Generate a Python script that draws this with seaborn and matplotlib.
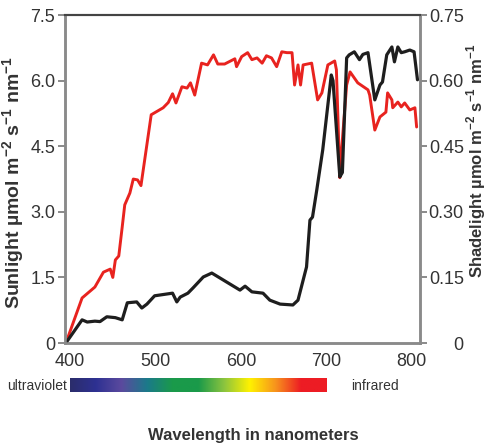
"""Sunlight vs shadelight spectra, dual y-axis, with a visible-spectrum strip."""

import matplotlib.pyplot as plt
import pandas as pd
import seaborn as sns
from matplotlib.colors import LinearSegmentedColormap
import numpy as np

# ---- data ----
sun_nm = [395, 414, 429, 439, 447, 450, 453, 457, 461, 464, 470, 474, 479, 483,
          495, 509, 515, 520, 524, 531, 537, 541, 546, 554, 561, 568, 573, 581,
          593, 595, 601, 608, 613, 619, 625, 630, 636, 642, 648, 654, 660, 663,
          667, 670, 673, 683, 690, 695, 702, 710, 712, 716, 718, 724, 728, 737,
          749, 751, 757, 763, 770, 772, 777, 778, 784, 788, 792, 798, 804, 806]
sun_val = [0.0, 1.03, 1.28, 1.62, 1.69, 1.50, 1.90, 1.99, 2.65, 3.16, 3.43, 3.75,
           3.73, 3.60, 5.22, 5.38, 5.50, 5.70, 5.49, 5.86, 5.83, 5.95, 5.67, 6.40,
           6.36, 6.59, 6.38, 6.38, 6.50, 6.32, 6.55, 6.64, 6.48, 6.52, 6.40, 6.57,
           6.52, 6.32, 6.66, 6.64, 6.64, 5.90, 6.36, 5.90, 6.36, 6.40, 5.56, 5.72,
           6.36, 6.45, 6.25, 3.78, 4.40, 5.90, 6.20, 5.95, 5.79, 5.67, 4.87, 5.17,
           5.28, 5.72, 5.56, 5.38, 5.51, 5.40, 5.49, 5.33, 5.38, 4.94]

shade_nm = [395, 414, 420, 429, 435, 443, 453, 461, 467, 478, 484, 490, 499, 520,
            525, 529, 538, 544, 556, 566, 599, 605, 613, 626, 634, 646, 661, 667,
            677, 681, 684, 689, 696, 706, 708, 716, 719, 724, 727, 733, 739, 743,
            749, 757, 763, 766, 771, 777, 780, 784, 788, 792, 798, 803, 807]
shade_val = [0.0, 0.053, 0.048, 0.050, 0.049, 0.060, 0.058, 0.053, 0.092, 0.094,
             0.080, 0.089, 0.108, 0.114, 0.094, 0.105, 0.114, 0.126, 0.151, 0.160,
             0.121, 0.130, 0.117, 0.114, 0.098, 0.089, 0.087, 0.098, 0.174, 0.281,
             0.288, 0.350, 0.442, 0.613, 0.600, 0.380, 0.390, 0.652, 0.659, 0.666,
             0.648, 0.660, 0.664, 0.556, 0.590, 0.597, 0.659, 0.677, 0.643, 0.677,
             0.664, 0.666, 0.670, 0.666, 0.602]

x_ticks = [400, 500, 600, 700, 800]
sun_ticks = [0, 1.5, 3.0, 4.5, 6.0, 7.5]
sun_labels = ["0", "1.5", "3.0", "4.5", "6.0", "7.5"]
shade_ticks = [0, 0.15, 0.30, 0.45, 0.60, 0.75]
shade_labels = ["0", "0.15", "0.30", "0.45", "0.60", "0.75"]

spectrum_colors = ["#2b2d6b", "#2e3192", "#5b4a9e", "#1b7a8a", "#1a9a4a",
                   "#1a9a4a", "#8bc43f", "#fff200", "#f7941d", "#ed1c24", "#ed1c24"]

sns.set_theme(style="white")
plt.rcParams["font.family"] = ["Liberation Sans", "DejaVu Sans"]
plt.rcParams["mathtext.fontset"] = "custom"
plt.rcParams["mathtext.rm"] = "Liberation Sans"
plt.rcParams["mathtext.bf"] = "Liberation Sans:bold"

GREY = "#8a8a8a"
TXT = "#333333"

fig = plt.figure(figsize=(4.87, 4.43), dpi=100)
ax = fig.add_axes([0.1335, 0.2257, 0.729, 0.7403])
ax2 = ax.twinx()

sun_df = pd.DataFrame({"nm": sun_nm, "val": sun_val})
shade_df = pd.DataFrame({"nm": shade_nm, "val": shade_val})

sns.lineplot(data=sun_df, x="nm", y="val", ax=ax, color="#e8231f", lw=2.1,
             sort=False, estimator=None)
sns.lineplot(data=shade_df, x="nm", y="val", ax=ax2, color="#1e1e1e", lw=2.3,
             sort=False, estimator=None)

ax.set_xlim(394, 810)
ax.set_ylim(0, 7.5)
ax2.set_ylim(0, 0.75)
ax.set_xticks(x_ticks)
ax.set_yticks(sun_ticks, sun_labels)
ax2.set_yticks(shade_ticks, shade_labels)

for a in (ax, ax2):
    for side in ("left", "right", "bottom"):
        a.spines[side].set_color(GREY)
        a.spines[side].set_linewidth(1.8)
    a.spines["top"].set_color("#444444")
    a.spines["top"].set_linewidth(1.5)
    a.tick_params(colors=GREY, labelcolor=TXT, labelsize=13, length=5,
                  width=1.4, direction="out", pad=2)
    a.set_xlabel("")
    a.set_ylabel("")

# right-hand tick labels are right-aligned in the reference
ax2.tick_params(axis="y", pad=26.5)
for lab in ax2.get_yticklabels():
    lab.set_horizontalalignment("right")

sup = lambda s: r"$^{\mathbf{" + s + "}}$"
ax.set_ylabel("Sunlight µmol m" + sup("-2") + " s" + sup("-1") + " nm" + sup("-1"),
              fontsize=14, fontweight="bold", color=TXT)
ax.yaxis.set_label_coords(-0.106, 0.49)
ax2.set_ylabel("Shadelight µmol m" + sup("-2") + " s" + sup("-1") + " nm" + sup("-1"),
               fontsize=12, fontweight="bold", color=TXT, rotation=90)
ax2.yaxis.set_label_coords(1.124, 0.555)

# ---- spectrum strip under the x axis, sharing the wavelength scale ----
cax = fig.add_axes([0.1335, 0.115, 0.729, 0.032])
cmap = LinearSegmentedColormap.from_list("spectrum", spectrum_colors)
cax.imshow(np.linspace(0, 1, 256)[None, :], cmap=cmap, aspect="auto",
           extent=[x_ticks[0], x_ticks[3], 0, 1])
cax.set_xlim(ax.get_xlim())
cax.set_ylim(0, 1)
cax.axis("off")

fig.text(0.014, 0.128, "ultraviolet", fontsize=10, color=TXT, va="center")
fig.text(0.722, 0.128, "infrared", fontsize=10, color=TXT, va="center")
fig.text(0.52, 0.018, "Wavelength in nanometers", fontsize=12,
         fontweight="bold", color=TXT, ha="center", va="center")

fig.savefig("out.png", dpi=100)
